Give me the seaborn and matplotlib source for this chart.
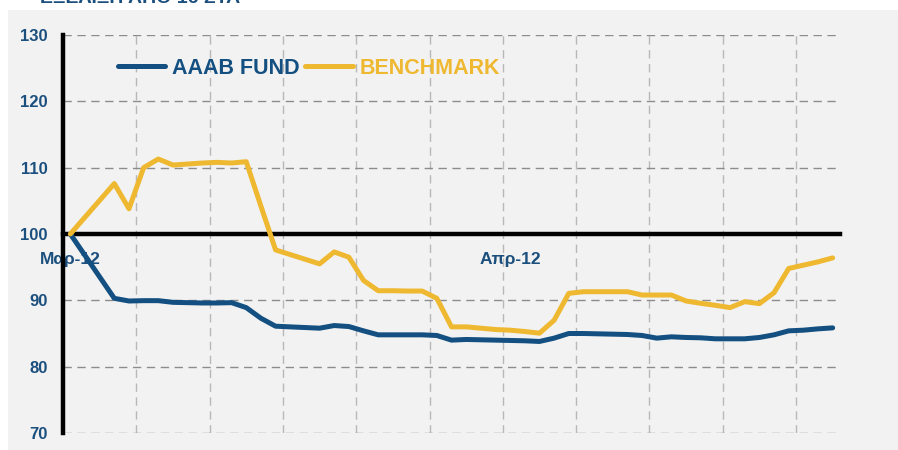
import numpy as np
import pandas as pd
import matplotlib
matplotlib.use("Agg")
import matplotlib.pyplot as plt
from matplotlib.patches import Rectangle
from matplotlib.lines import Line2D
import seaborn as sns

sns.set_theme(style="white")
plt.rcParams['font.family'] = ['Liberation Sans', 'DejaVu Sans']

# ---- data ----
series_names = ["AAAB FUND", "BENCHMARK"]
fund = [100.0, np.nan, np.nan, 90.3, 89.9, 89.95, 89.95, 89.7, 89.65, 89.6,
        89.6, 89.65, 88.9, 87.3, 86.1, 86.0, 85.9, 85.8, 86.2, 86.05,
        85.4, 84.8, 84.8, 84.8, 84.8, 84.7, 84.0, 84.1, 84.05, 84.0,
        83.95, 83.9, 83.8, 84.3, 85.0, 85.0, 84.95, 84.9, 84.85, 84.7,
        84.3, 84.5, 84.4, 84.35, 84.2, 84.2, 84.2, 84.4, 84.8, 85.4,
        85.5, 85.7, 85.85]
bench = [100.0, np.nan, np.nan, 107.6, 103.8, 110.0, 111.3, 110.4, 110.55, 110.7,
         110.8, 110.7, 110.9, 104.2, 97.6, 96.9, 96.2, 95.5, 97.3, 96.5,
         93.0, 91.45, 91.45, 91.4, 91.4, 90.3, 86.0, 86.0, 85.8, 85.6,
         85.5, 85.3, 85.05, 87.0, 91.05, 91.3, 91.3, 91.3, 91.3, 90.8,
         90.8, 90.8, 89.9, 89.55, 89.25, 88.9, 89.8, 89.5, 91.15, 94.8,
         95.3, 95.8, 96.4]
x_labels = {0: "Μαρ-12", 30: "Απρ-12"}
y_ticks = [70, 80, 90, 100, 110, 120, 130]
title_text = "ΕΞΕΛΙΞΗ ΑΠΟ 16 ΣΤΑ"

colors = {"AAAB FUND": "#134f80", "BENCHMARK": "#efb831"}
label_color = "#1b4f7e"

n = len(fund)
df = pd.concat([
    pd.DataFrame({"idx": np.arange(n), "value": fund, "series": series_names[0]}),
    pd.DataFrame({"idx": np.arange(n), "value": bench, "series": series_names[1]}),
]).dropna()

W, H = 898, 450
fig = plt.figure(figsize=(W / 100, H / 100), dpi=100)
fig.patch.set_facecolor("white")
bg = Rectangle((8 / W, 0), 1 - 8 / W, (H - 10) / H,
               transform=fig.transFigure, facecolor="#f2f2f2",
               edgecolor="none", zorder=-10)
fig.patches.append(bg)
fig.text(40 / W, 1 - 3 / H, title_text, color=label_color, fontsize=14,
         fontweight="bold", va="baseline", ha="left")

ax = fig.add_axes([63 / W, (H - 433) / H, (840 - 63) / W, (433 - 35) / H])
ax.set_facecolor("none")
ax.set_zorder(1)

sns.lineplot(data=df, x="idx", y="value", hue="series", palette=colors,
             linewidth=3.6, ax=ax, legend=False, zorder=3,
             estimator=None, sort=True)
for ln in ax.get_lines():
    ln.set_solid_joinstyle("round")
    ln.set_solid_capstyle("round")

ax.set_xlim(-0.5, n - 0.5)
ax.set_ylim(70, 130)
ax.set_xlabel("")
ax.set_ylabel("")

for s in ["top", "right"]:
    ax.spines[s].set_visible(False)
ax.spines["left"].set_color("black")
ax.spines["left"].set_linewidth(3.2)
ax.spines["bottom"].set_position(("data", 100))
ax.spines["bottom"].set_color("black")
ax.spines["bottom"].set_linewidth(3.2)
ax.spines["bottom"].set_zorder(2.6)

ax.set_yticks(y_ticks)
ax.set_yticklabels([str(v) for v in y_ticks])
ax.set_xticks(list(x_labels.keys()))
ax.set_xticklabels(list(x_labels.values()))
ax.set_xticks([k + 4.5 for k in range(0, n - 5, 5)], minor=True)

ax.tick_params(axis="y", which="major", direction="out", length=5, width=3,
               color="black", pad=6, labelsize=12, labelcolor=label_color)
ax.tick_params(axis="x", which="both", length=0, pad=13, labelsize=12.5,
               labelcolor=label_color)
for lab in ax.get_yticklabels() + ax.get_xticklabels():
    lab.set_fontweight("bold")

ax.grid(False)
ax.grid(which="major", axis="y", color="#8c8c8c", linestyle=(0, (6, 4)), linewidth=1.0, zorder=0)
ax.grid(which="minor", axis="x", color="#b8b8b8", linestyle=(0, (6, 4)), linewidth=1.0, zorder=0)
ax.set_axisbelow(True)

handles = [Line2D([0], [0], color=colors[s], lw=3.6) for s in series_names]
leg = ax.legend(handles, series_names, loc="center left", ncol=2, frameon=False,
                bbox_to_anchor=((118 - 63) / 777, (433 - 68) / 398),
                borderpad=0, borderaxespad=0,
                handlelength=2.2, handletextpad=0.33,
                columnspacing=0.25, prop={"weight": "bold", "size": 15.5})
for txt, s in zip(leg.get_texts(), series_names):
    txt.set_color(colors[s])

fig.savefig("out.png", dpi=100)
